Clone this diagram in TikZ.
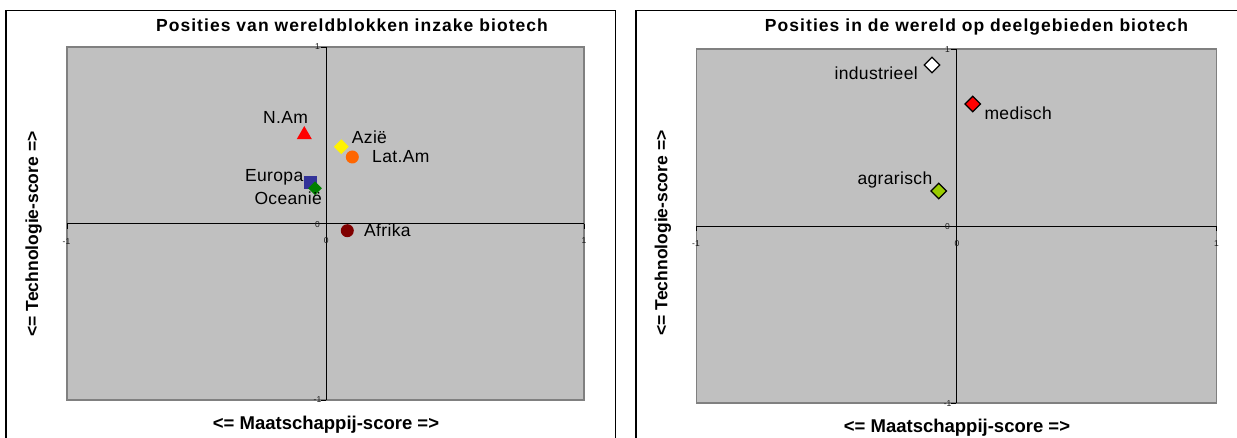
\documentclass[tikz,border=0pt]{standalone}
\usepackage{fontspec}
\setmainfont{Liberation Sans}
\newfontfamily\titlefont[LetterSpace=6]{Liberation Sans}
\newfontfamily\lblfont[LetterSpace=2]{Liberation Sans}
\usetikzlibrary{shapes.geometric}
\definecolor{plotgray}{RGB}{192,192,192}
\definecolor{framegray}{RGB}{128,128,128}
\definecolor{eublue}{RGB}{51,51,153}
\definecolor{ocgreen}{RGB}{0,128,0}
\definecolor{afred}{RGB}{128,0,0}
\definecolor{laorange}{RGB}{255,102,0}
\definecolor{agrgreen}{RGB}{153,204,0}
\tikzset{
  panelline/.style={line width=1.3pt, black},
  plotbg/.style={fill=plotgray, draw=framegray, line width=1.8pt},
  axisline/.style={black, line width=0.8pt},
  tickline/.style={black, line width=0.8pt},
  ticklbl/.style={font=\fontsize{8.5}{9}\selectfont, text=black!90, inner sep=0.5pt},
  ptlabel/.style={font=\lblfont\fontsize{17.5}{20}\selectfont, inner sep=0pt},
  charttitle/.style={font=\titlefont\bfseries\fontsize{17.5}{20}\selectfont, inner sep=0pt, anchor=base},
  xaxlabel/.style={font=\bfseries\fontsize{18.5}{21}\selectfont, inner sep=0pt, anchor=base},
  yaxlabel/.style={font=\bfseries\fontsize{17.5}{20}\selectfont, inner sep=0pt, anchor=base, rotate=90},
  dmark/.style={diamond, minimum size=15pt, inner sep=0pt},
  odmark/.style={diamond, minimum size=16pt, inner sep=0pt, draw=black, line width=1.2pt},
  cmark/.style={circle, minimum size=13pt, inner sep=0pt},
  smark/.style={rectangle, minimum size=13pt, inner sep=0pt},
  tmark/.style={regular polygon, regular polygon sides=3, minimum size=17.3pt, inner sep=0pt}
}
\begin{document}
\begin{tikzpicture}[x=1pt,y=-1pt]
\useasboundingbox (0,0) rectangle (1237,438);
\fill[white] (0,0) rectangle (1237,438);

% ---------- left panel ----------
\draw[panelline] (6,445) -- (6,10.7) -- (615.3,10.7) -- (615.3,445);
\node[charttitle] (t1) at (352,31.3) {Posities van wereldblokken inzake biotech};
\draw[plotbg] (67,47) rectangle (584,400);
\draw[axisline] (326,47) -- (326,400);
\draw[axisline] (67,223.7) -- (584,223.7);
\foreach \yy in {47,223.7,400} \draw[tickline] (326,\yy) -- (321,\yy);
\foreach \xx in {67,326,584} \draw[tickline] (\xx,223.7) -- (\xx,228.7);
\node[ticklbl, anchor=east] (l1y1) at (320.5,47) {1};
\node[ticklbl, anchor=east] (l1y0) at (320.5,224.3) {0};
\node[ticklbl, anchor=east] (l1ym) at (322,400) {-1};
\node[ticklbl] (l1xm) at (66.5,241.5) {-1};
\node[ticklbl] (l1x0) at (326.3,241) {0};
\node[ticklbl] (l1x1) at (584,241) {1};

\node[tmark, fill=red] (nam) at (304.3,134.7) {};
\node[dmark, fill=yellow] (azie) at (341.3,146.7) {};
\node[cmark, fill=laorange] (latam) at (352.3,157) {};
\node[smark, fill=eublue] (europa) at (310.3,182.3) {};
\node[dmark, minimum size=14pt, fill=ocgreen] (oceanie) at (315,188.3) {};
\node[cmark, fill=afred] (afrika) at (347.3,230.7) {};

\node[ptlabel, anchor=base west] (namlbl) at (263,124) {N.Am};
\node[ptlabel, anchor=base west] (azielbl) at (351.7,143.7) {Azië};
\node[ptlabel, anchor=base west] (latamlbl) at (372,162.7) {Lat.Am};
\node[ptlabel, anchor=base east] (europalbl) at (303.5,181.7) {Europa};
\node[ptlabel, anchor=base east] (oceanielbl) at (322,204.3) {Oceanië};
\node[ptlabel, anchor=base west] (afrikalbl) at (364,236.7) {Afrika};

\node[xaxlabel] (xl1) at (326,429) {<= Maatschappij-score =>};
\node[yaxlabel] (yl1) at (38,234) {<= Technologie-score =>};

% ---------- right panel ----------
\draw[panelline] (636,445) -- (636,10.7) -- (1245,10.7);
\node[charttitle] (t2) at (976.5,31.3) {Posities in de wereld op deelgebieden biotech};
\draw[plotbg] (696.4,49.3) rectangle (1216.4,403.3);
\draw[axisline] (956.4,49.3) -- (956.4,403.3);
\draw[axisline] (696.4,226.3) -- (1216.4,226.3);
\foreach \yy in {49.3,226.3,403.3} \draw[tickline] (956.4,\yy) -- (951.4,\yy);
\foreach \xx in {696.4,956.4,1216.4} \draw[tickline] (\xx,226.3) -- (\xx,231.3);
\node[ticklbl, anchor=east] (r1y1) at (950.5,49.3) {1};
\node[ticklbl, anchor=east] (r1y0) at (950.5,226.6) {0};
\node[ticklbl, anchor=east] (r1ym) at (952,403.3) {-1};
\node[ticklbl] (r1xm) at (696,243.5) {-1};
\node[ticklbl] (r1x0) at (957,244) {0};
\node[ticklbl] (r1x1) at (1216.4,244) {1};

\node[odmark, fill=white] (ind) at (932,65) {};
\node[odmark, fill=red] (med) at (972.7,104) {};
\node[odmark, fill=agrgreen] (agr) at (938.7,191) {};

\node[ptlabel, anchor=base east] (indlbl) at (918,80) {industrieel};
\node[ptlabel, anchor=base west] (medlbl) at (984.3,120) {medisch};
\node[ptlabel, anchor=base east] (agrlbl) at (932.5,184.3) {agrarisch};

\node[xaxlabel] (xl2) at (957,432.5) {<= Maatschappij-score =>};
\node[yaxlabel] (yl2) at (667.3,233) {<= Technologie-score =>};
\end{tikzpicture}
\end{document}
